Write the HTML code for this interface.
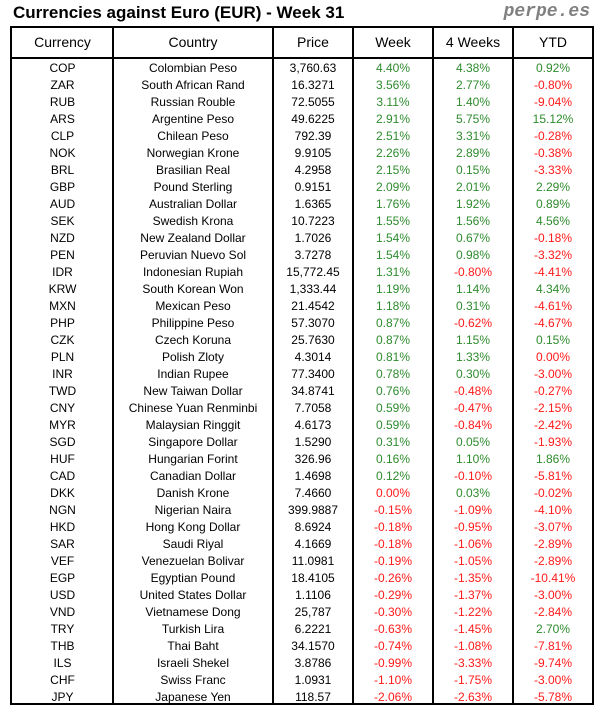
<!DOCTYPE html><html><head><style>
body{margin:0;width:604px;height:716px;background:#fff;font-family:"Liberation Sans",sans-serif;position:relative;overflow:hidden}
.t{position:absolute;left:13px;top:3px;font-size:17px;font-weight:bold;color:#000}
.p{position:absolute;right:14px;top:2px;font-family:"Liberation Mono",monospace;font-style:italic;font-weight:bold;font-size:18px;color:#808080}
.box{position:absolute;left:10px;top:26px;width:580px;height:675px;border:2px solid #000}
.v{position:absolute;top:0;bottom:0;width:2px;background:#000}
.h{position:absolute;left:0;right:0;top:29px;height:2px;background:#000}
.row{position:absolute;left:0;height:17px;line-height:17px;font-size:12px;display:flex}
.row div{text-align:center}
.hd{font-size:14px;height:29px;line-height:29px;top:0}
.c1{width:101px}.c2{width:160px}.c3{width:80px}.c4{width:80px}.c5{width:80px}.c6{width:80px}
.g{color:#2e8b2e}.r{color:#ff1a1a}
</style></head><body>
<div class="t">Currencies against Euro (EUR) - Week 31</div>
<div class="p">perpe.es</div>
<div class="box">
<div class="v" style="left:100px"></div><div class="v" style="left:260px"></div><div class="v" style="left:340px"></div><div class="v" style="left:420px"></div><div class="v" style="left:500px"></div>
<div class="h"></div>
<div class="row hd"><div class="c1">Currency</div><div class="c2">Country</div><div class="c3">Price</div><div class="c4">Week</div><div class="c5">4 Weeks</div><div class="c6">YTD</div></div>
<div id="rows"></div>
</div>
<script>
var d=[["COP","Colombian Peso","3,760.63","4.40%","4.38%","0.92%"],["ZAR","South African Rand","16.3271","3.56%","2.77%","-0.80%"],["RUB","Russian Rouble","72.5055","3.11%","1.40%","-9.04%"],["ARS","Argentine Peso","49.6225","2.91%","5.75%","15.12%"],["CLP","Chilean Peso","792.39","2.51%","3.31%","-0.28%"],["NOK","Norwegian Krone","9.9105","2.26%","2.89%","-0.38%"],["BRL","Brasilian Real","4.2958","2.15%","0.15%","-3.33%"],["GBP","Pound Sterling","0.9151","2.09%","2.01%","2.29%"],["AUD","Australian Dollar","1.6365","1.76%","1.92%","0.89%"],["SEK","Swedish Krona","10.7223","1.55%","1.56%","4.56%"],["NZD","New Zealand Dollar","1.7026","1.54%","0.67%","-0.18%"],["PEN","Peruvian Nuevo Sol","3.7278","1.54%","0.98%","-3.32%"],["IDR","Indonesian Rupiah","15,772.45","1.31%","-0.80%","-4.41%"],["KRW","South Korean Won","1,333.44","1.19%","1.14%","4.34%"],["MXN","Mexican Peso","21.4542","1.18%","0.31%","-4.61%"],["PHP","Philippine Peso","57.3070","0.87%","-0.62%","-4.67%"],["CZK","Czech Koruna","25.7630","0.87%","1.15%","0.15%"],["PLN","Polish Zloty","4.3014","0.81%","1.33%","0.00%"],["INR","Indian Rupee","77.3400","0.78%","0.30%","-3.00%"],["TWD","New Taiwan Dollar","34.8741","0.76%","-0.48%","-0.27%"],["CNY","Chinese Yuan Renminbi","7.7058","0.59%","-0.47%","-2.15%"],["MYR","Malaysian Ringgit","4.6173","0.59%","-0.84%","-2.42%"],["SGD","Singapore Dollar","1.5290","0.31%","0.05%","-1.93%"],["HUF","Hungarian Forint","326.96","0.16%","1.10%","1.86%"],["CAD","Canadian Dollar","1.4698","0.12%","-0.10%","-5.81%"],["DKK","Danish Krone","7.4660","0.00%","0.03%","-0.02%"],["NGN","Nigerian Naira","399.9887","-0.15%","-1.09%","-4.10%"],["HKD","Hong Kong Dollar","8.6924","-0.18%","-0.95%","-3.07%"],["SAR","Saudi Riyal","4.1669","-0.18%","-1.06%","-2.89%"],["VEF","Venezuelan Bolivar","11.0981","-0.19%","-1.05%","-2.89%"],["EGP","Egyptian Pound","18.4105","-0.26%","-1.35%","-10.41%"],["USD","United States Dollar","1.1106","-0.29%","-1.37%","-3.00%"],["VND","Vietnamese Dong","25,787","-0.30%","-1.22%","-2.84%"],["TRY","Turkish Lira","6.2221","-0.63%","-1.45%","2.70%"],["THB","Thai Baht","34.1570","-0.74%","-1.08%","-7.81%"],["ILS","Israeli Shekel","3.8786","-0.99%","-3.33%","-9.74%"],["CHF","Swiss Franc","1.0931","-1.10%","-1.75%","-3.00%"],["JPY","Japanese Yen","118.57","-2.06%","-2.63%","-5.78%"]];
function cl(v){return (v[0]=='-'||v=='0.00%')?'r':'g'}
var h='';d.forEach(function(r,i){h+='<div class="row" style="top:'+(32+i*17)+'px"><div class="c1">'+r[0]+'</div><div class="c2">'+r[1]+'</div><div class="c3">'+r[2]+'</div><div class="c4 '+cl(r[3])+'">'+r[3]+'</div><div class="c5 '+cl(r[4])+'">'+r[4]+'</div><div class="c6 '+cl(r[5])+'">'+r[5]+'</div></div>'});
document.getElementById('rows').outerHTML=h;
</script>
</body></html>
